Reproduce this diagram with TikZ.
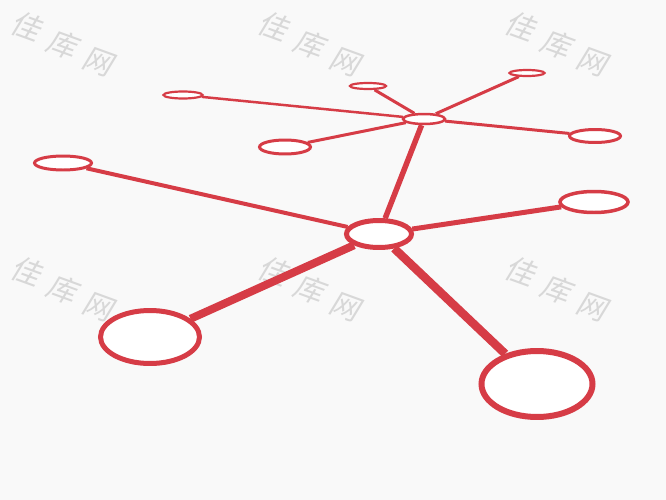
\documentclass[tikz,border=0pt]{standalone}
\usepackage{fontspec}
\newfontfamily\cjk[FakeSlant=0.2]{Noto Sans CJK SC}
\usetikzlibrary{shapes.geometric}
\definecolor{netred}{RGB}{214,60,70}
\definecolor{paper}{RGB}{249,249,249}
\definecolor{markgray}{RGB}{216,216,216}

\begin{document}
\begin{tikzpicture}[x=0.025cm, y=-0.025cm]
  \tikzset{
    ring_node/.style args={#1/#2/#3}{
      ellipse, draw=netred, fill=white, line width=#3*0.71pt,
      minimum width=#1*0.025cm, minimum height=#2*0.025cm, inner sep=0pt
    },
    link_line/.style={draw=netred, line width=#1*0.71pt},
    water_mark/.style={text=markgray, font=\cjk\fontsize{21}{21}\selectfont,
      rotate=-20, inner sep=0pt}
  }
  \fill[paper] (0,0) rectangle (666,500);
  \useasboundingbox (0,0) rectangle (666,500);

  % watermarks, one glyph at a time down the slope
  \foreach \wx in {26,273,520} {
    \foreach \wy in {26,271} {
      \foreach \ch [count=\ci] in {佳,库,网} {
        \node[water_mark] (mark-\wx-\wy-\ci) at (\wx+36*\ci-36,\wy+18*\ci-18) {\ch};
      }
    }
  }

  % upper cluster
  \node[ring_node=42/10/2.5] (top_hub) at (424,119) {};
  \node[ring_node=39/7/2.2] (sat_a) at (183,95) {};
  \node[ring_node=36/6/2.2] (sat_b) at (368,86) {};
  \node[ring_node=35/6/2.2] (sat_c) at (527,73) {};
  \node[ring_node=51/13/3] (sat_d) at (595,136) {};
  \node[ring_node=51/14/3] (sat_e) at (285,147) {};

  % lower cluster
  \node[ring_node=65/27/5] (main_hub) at (379,234) {};
  \node[ring_node=57/14/3] (far_left) at (63,163) {};
  \node[ring_node=68/21/3.5] (right_ring) at (594,202) {};
  \node[ring_node=99/53/5] (low_left) at (150,337) {};
  \node[ring_node=111/66/6] (low_right) at (537,384) {};

  \foreach \sat/\w in {sat_a/2.5, sat_b/3, sat_c/3, sat_d/3, sat_e/3} {
    \draw[link_line=\w] (top_hub) -- (\sat);
  }
  \foreach \sat/\w in {top_hub/5.5, far_left/4, right_ring/5, low_left/8, low_right/8.5} {
    \draw[link_line=\w] (main_hub) -- (\sat);
  }

\end{tikzpicture}
\end{document}
